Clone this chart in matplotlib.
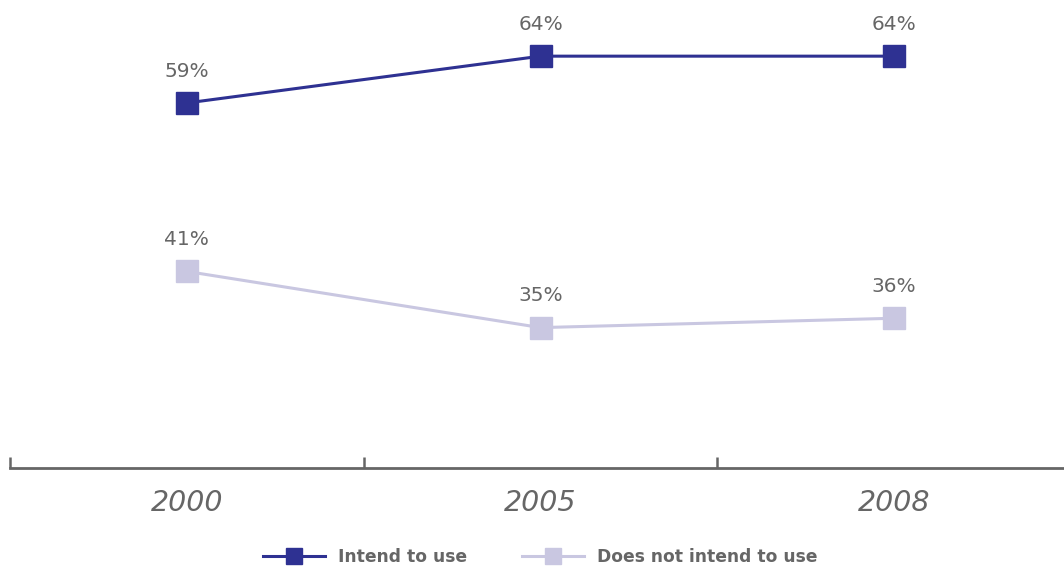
import matplotlib.pyplot as plt
from matplotlib.ticker import FixedLocator

years = ["2000", "2005", "2008"]
intend = [59, 64, 64]
not_intend = [41, 35, 36]

navy = "#2e3192"
lilac = "#c9c7e1"
grey = "#666666"

fig = plt.figure(figsize=(10.64, 5.67), dpi=100)
ax = fig.add_axes([10 / 1064, 99 / 567, 1054 / 1064, 468 / 567])

x = range(len(years))
ax.plot(x, intend, "-s", color=navy, lw=2.2, ms=15.5, label="Intend to use")
ax.plot(x, not_intend, "-s", color=lilac, lw=2.2, ms=15.5, label="Does not intend to use")

# value labels above each marker
for serie in (intend, not_intend):
    for i, v in enumerate(serie):
        ax.annotate(f"{v}%", (i, v), xytext=(0, 23), textcoords="offset points",
                    ha="center", va="center", fontsize=14.5, color=grey)

ax.set_xlim(-0.5, 2.48)
ax.set_ylim(20, 70)

for s in ("top", "right", "left"):
    ax.spines[s].set_visible(False)
ax.spines["bottom"].set_color(grey)
ax.spines["bottom"].set_linewidth(2)
ax.set_yticks([])

ax.set_xticks(list(x))
ax.set_xticklabels(years, fontsize=20.5, style="italic", weight="medium", color=grey)
ax.tick_params(axis="x", which="major", length=0, pad=15)
ax.xaxis.set_minor_locator(FixedLocator([-0.5, 0.5, 1.5]))
ax.tick_params(axis="x", which="minor", direction="in", length=8, width=1.8, color=grey)

fig.legend(loc="center", bbox_to_anchor=(0.508, 0.017), ncol=2, frameon=False,
           handlelength=3.6, columnspacing=3.2, markerscale=0.75, handletextpad=0.8,
           prop={"size": 12.3, "weight": "bold"}, labelcolor=grey)

fig.savefig("out.png", dpi=100)
